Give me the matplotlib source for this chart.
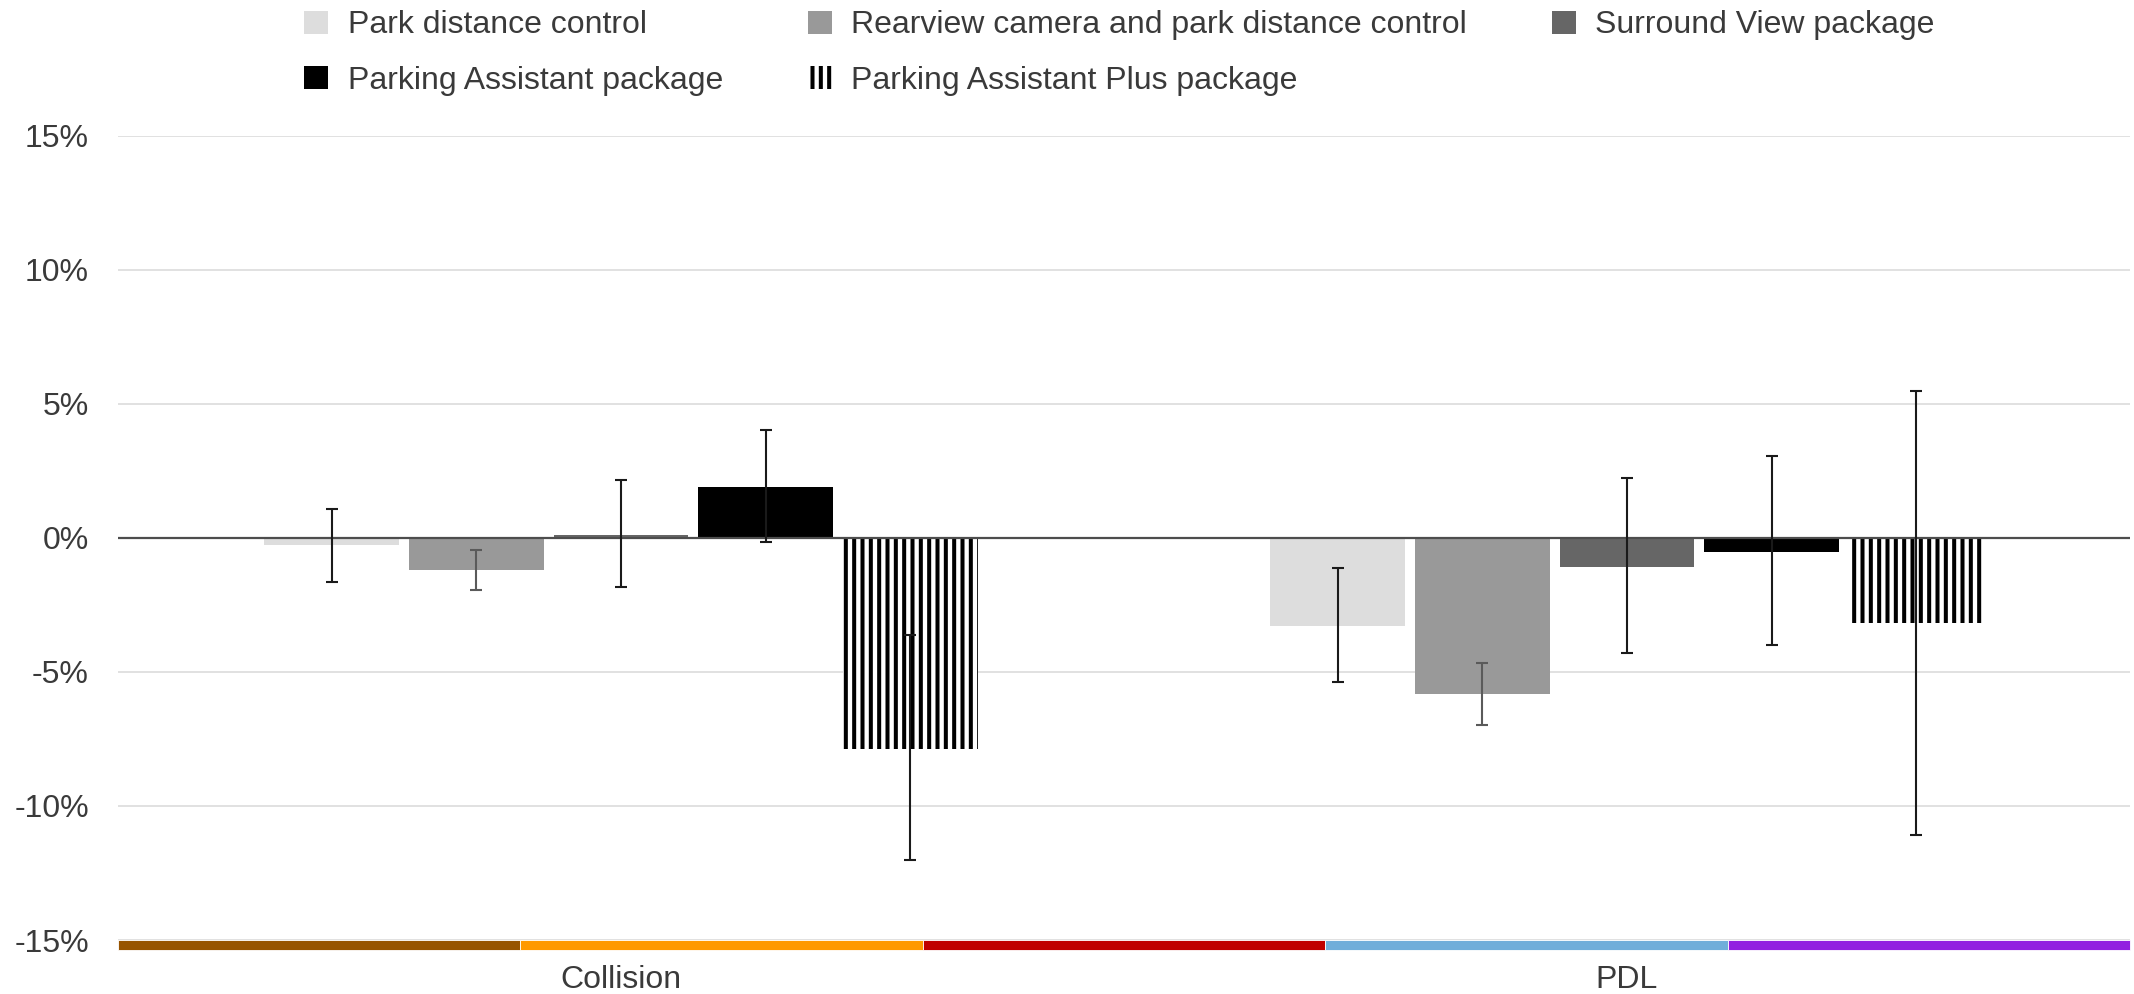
import numpy as np
import matplotlib
matplotlib.use("Agg")
import matplotlib.pyplot as plt
from matplotlib.patches import Rectangle
from matplotlib.ticker import FuncFormatter

plt.rcParams['font.family'] = ['Liberation Sans', 'DejaVu Sans']
plt.rcParams['hatch.linewidth'] = 2.9

categories = ["Collision", "PDL"]
series = [
    "Park distance control",
    "Rearview camera and park distance control",
    "Surround View package",
    "Parking Assistant package",
    "Parking Assistant Plus package",
]

# estimates and confidence bounds (%), one entry per series
collision_est = [-0.27, -1.20, 0.12, 1.90, -7.89]
collision_low = [-1.64, -1.95, -1.84, -0.15, -12.02]
collision_high = [1.09, -0.46, 2.16, 4.01, -3.64]

pdl_est = [-3.27, -5.83, -1.08, -0.52, -3.17]
pdl_low = [-5.38, -6.99, -4.29, -3.98, -11.09]
pdl_high = [-1.13, -4.66, 2.25, 3.06, 5.48]

yticks = [-15, -10, -5, 0, 5, 10, 15]

bar_colors = ['#dddddd', '#999999', '#666666', '#000000', 'white']
err_colors = ['#1a1a1a', '#5a5a5a', '#1a1a1a', '#1a1a1a', '#1a1a1a']
band_colors = ['#975400', '#ff9900', '#c00000', '#70aeda', '#9220e0']

est = np.array([collision_est, pdl_est]).T
low = np.array([collision_low, pdl_low]).T
high = np.array([collision_high, pdl_high]).T

fs = 23
fig = plt.figure(figsize=(21.34, 9.94), dpi=100)
ax = fig.add_axes([118 / 2134, 1 - 940 / 994, (2130 - 118) / 2134, (940 - 135.7) / 994])

x = np.arange(len(categories))
width = 0.134
step = 0.1437
handles = []
for i, name in enumerate(series):
    pos = x + (i - 2) * step
    hatch = '||' if i == 4 else None
    bars = ax.bar(pos, est[i], width, color=bar_colors[i], edgecolor='black' if hatch else bar_colors[i],
                  linewidth=0, hatch=hatch, label=name, zorder=2)
    handles.append(bars)
    yerr = np.vstack([est[i] - low[i], high[i] - est[i]])
    ax.errorbar(pos, est[i], yerr=yerr, fmt='none', ecolor=err_colors[i],
                elinewidth=1.5, capsize=4.2, capthick=1.5, zorder=4)

ax.axhline(0, color='#4d4d4d', linewidth=1.6, zorder=3)

ax.set_xlim(-0.5, 1.5)
ax.set_ylim(-15, 15)
ax.set_yticks(yticks)
ax.yaxis.set_major_formatter(FuncFormatter(lambda v, p: f"{v:.0f}%"))
ax.set_xticks(x)
ax.set_xticklabels(categories)
ax.yaxis.grid(True, color='#d9d9d9', linewidth=1.1, zorder=0)
ax.set_axisbelow(True)
for s in ax.spines.values():
    s.set_visible(False)
ax.tick_params(axis='both', length=0, labelsize=fs, labelcolor='#3a3a3a')
ax.tick_params(axis='y', pad=21)
ax.tick_params(axis='x', pad=18)

# coloured strip under the axis
band_h = 10 / 804
for k, c in enumerate(band_colors):
    ax.add_patch(Rectangle((k / 5, -band_h), 1 / 5, band_h, transform=ax.transAxes,
                           facecolor=c, edgecolor='white', linewidth=0.6, clip_on=False, zorder=5))

order = [0, 3, 1, 4, 2]
leg = fig.legend([handles[j] for j in order], [series[j] for j in order],
                 loc='upper left', bbox_to_anchor=(298 / 2134, 0.996), ncol=3, frameon=False,
                 fontsize=fs, handlelength=0.75, handleheight=0.75, handletextpad=0.6,
                 columnspacing=2.66, labelspacing=0.79, borderpad=0.2, borderaxespad=0)
for t in leg.get_texts():
    t.set_color('#3a3a3a')

fig.savefig("out.png", dpi=100)
